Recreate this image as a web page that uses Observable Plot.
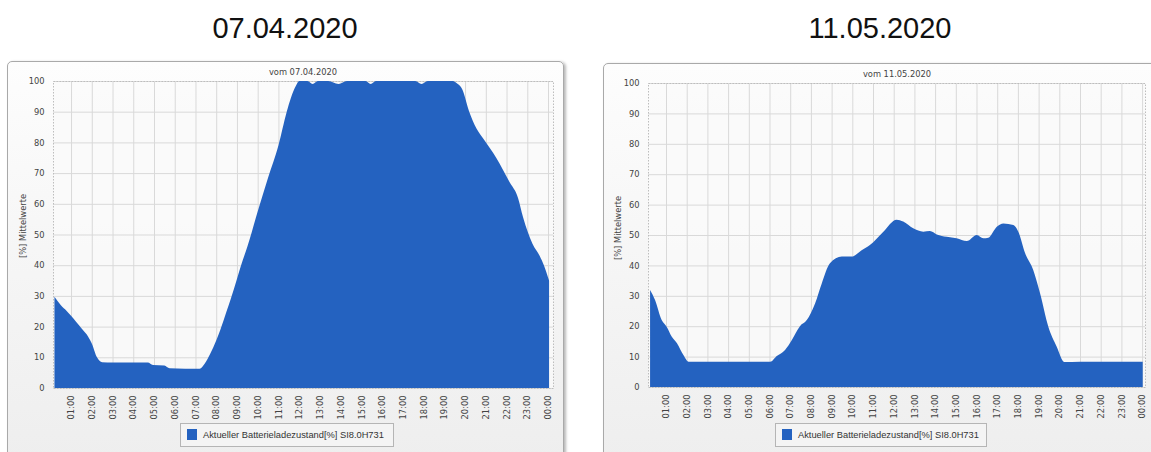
<!DOCTYPE html>
<html>
<head>
<meta charset="utf-8">
<script src="https://cdn.jsdelivr.net/npm/d3@7"></script>
<script src="https://cdn.jsdelivr.net/npm/@observablehq/plot@0.6"></script>
<style>
  html, body { margin: 0; padding: 0; background: #fff; }
  body { width: 1151px; height: 452px; position: relative; overflow: hidden; font-family: "Liberation Sans", Arial, sans-serif; }
  .heading { position: absolute; font-size: 29px; line-height: 29px; color: #111; transform: translateX(-50%); white-space: nowrap; }
  .frame { position: absolute; box-sizing: border-box; border: 1px solid #a9a9a9; border-radius: 5px;
           background: linear-gradient(#fdfdfd, #eeeeee); box-shadow: 2px 1px 3px rgba(0,0,0,0.28); }
  .chart { position: absolute; }
  .ctitle { position: absolute; font-family: "DejaVu Sans", sans-serif; font-size: 8.3px; line-height: 9px; color: #444; transform: translateX(-50%); white-space: nowrap; }
  .ylabel { position: absolute; font-family: "DejaVu Sans", sans-serif; font-size: 8.3px; line-height: 9px; color: #444; white-space: nowrap; transform: translate(-50%, -50%) rotate(-90deg); }
  .legend { position: absolute; box-sizing: border-box; border: 1px solid #b5b5b5; background: #f4f4f4; height: 24px; }
  .legend .sw { position: absolute; left: 6px; top: 5px; width: 10px; height: 11px; background: #2462c0; }
  .legend .lt { position: absolute; left: 22px; top: 6px; font-size: 9.3px; line-height: 10px; color: #333; white-space: nowrap; }
</style>
</head>
<body>
<div class="heading" style="left:285px;top:14px">07.04.2020</div>
<div class="heading" style="left:880px;top:14px">11.05.2020</div>

<div class="frame" style="left:7px;top:61px;width:557px;height:400px"></div>
<div class="frame" style="left:603px;top:63px;width:560px;height:400px"></div>

<div id="chartA" class="chart" style="left:7px;top:61px"></div>
<div id="chartB" class="chart" style="left:603px;top:63px"></div>

<div class="ctitle" style="left:303px;top:68px">vom 07.04.2020</div>
<div class="ctitle" style="left:897px;top:70px">vom 11.05.2020</div>

<div class="ylabel" style="left:23px;top:226px">[%] Mittelwerte</div>
<div class="ylabel" style="left:618px;top:228px">[%] Mittelwerte</div>

<div class="legend" style="left:180px;top:423px;width:214px"><div class="sw"></div><div class="lt">Aktueller Batterieladezustand[%] SI8.0H731</div></div>
<div class="legend" style="left:775px;top:423px;width:212px"><div class="sw"></div><div class="lt">Aktueller Batterieladezustand[%] SI8.0H731</div></div>

<script>
// ---- Data (hours of day, battery state of charge in %) ----
const hoursA = [0.2, 0.5, 0.8, 1.0, 1.25, 1.5, 1.75, 2.0, 2.25, 2.5, 3.0, 4.0, 4.7, 4.95, 5.5, 5.75, 6.5, 7.2, 7.45, 7.7, 8.0, 8.2, 8.5, 8.7, 9.0, 9.2, 9.5, 10.0, 10.5, 11.0, 11.4, 11.6, 11.85, 12.0, 12.4, 12.65, 12.9, 13.4, 13.9, 14.3, 15.2, 15.45, 15.7, 17.6, 17.9, 18.2, 19.4, 19.65, 19.85, 20.2, 20.55, 20.9, 21.5, 22.15, 22.55, 22.8, 23.25, 23.6, 23.8, 24.05];
const socA   = [29.7, 27, 25, 23.5, 21.5, 19.5, 17.5, 14.5, 10, 8.4, 8.3, 8.3, 8.3, 7.5, 7.3, 6.4, 6.3, 6.3, 8, 11, 15.5, 19, 25, 29, 35.5, 40, 46, 57.5, 68.5, 79, 90, 94.5, 98.5, 100, 100, 99, 100, 100, 99, 100, 100, 99, 100, 100, 99, 100, 100, 99, 97.5, 90, 84.5, 81, 75, 67, 62, 55.5, 47, 43, 40, 35];

const hoursB = [0.23, 0.47, 0.79, 1.03, 1.28, 1.53, 1.84, 2.09, 3.0, 4.0, 5.0, 6.03, 6.35, 6.75, 7.08, 7.47, 7.8, 8.2, 8.52, 8.92, 9.49, 9.97, 10.45, 10.85, 11.5, 12.14, 12.46, 12.94, 13.43, 13.75, 14.08, 14.56, 15.04, 15.53, 16.01, 16.33, 16.57, 16.98, 17.3, 17.78, 18.02, 18.35, 18.74, 19.07, 19.47, 19.87, 20.24, 21.0, 22.0, 23.0, 24.03];
const socB   = [31.9, 28.6, 22, 19.8, 16.5, 14.4, 10.5, 8.3, 8.3, 8.3, 8.3, 8.3, 10.2, 12.2, 15.5, 20, 22, 27.5, 34, 40.7, 42.9, 42.9, 45, 46.7, 51.1, 55, 54.4, 52.2, 51.1, 51.3, 50.2, 49.4, 48.9, 48, 50, 48.9, 49.1, 52.7, 53.8, 53.3, 51.1, 44, 38.5, 30.8, 19.8, 13.3, 8.2, 8.3, 8.3, 8.3, 8.3];

const hourTicks  = [1, 2, 3, 4, 5, 6, 7, 8, 9, 10, 11, 12, 13, 14, 15, 16, 17, 18, 19, 20, 21, 22, 23, 24];
const hourLabels = ["01:00","02:00","03:00","04:00","05:00","06:00","07:00","08:00","09:00","10:00","11:00","12:00","13:00","14:00","15:00","16:00","17:00","18:00","19:00","20:00","21:00","22:00","23:00","00:00"];
const yTicks = [0, 10, 20, 30, 40, 50, 60, 70, 80, 90, 100];

const fillColor = "#2462c0";

function makeChart(hours, soc, cfg) {
  const data = hours.map((h, i) => ({h, v: soc[i]}));
  const fmt = h => hourLabels[hourTicks.indexOf(h)];
  return Plot.plot({
    width: cfg.width, height: cfg.height,
    marginLeft: cfg.ml, marginTop: cfg.mt, marginRight: cfg.mr, marginBottom: cfg.mb,
    style: {background: "transparent", fontSize: "8.3px", fontFamily: "'DejaVu Sans', sans-serif", color: "#444", overflow: "visible"},
    x: {type: "linear", domain: cfg.xDomain, label: null},
    y: {domain: [0, 100], label: null},
    marks: [
      Plot.frame({fill: "#fafafa", fillOpacity: 0.8, stroke: "none"}),
      Plot.gridY(yTicks, {stroke: "#d9d9d9", strokeOpacity: 1}),
      Plot.gridX(hourTicks, {stroke: "#d9d9d9", strokeOpacity: 1}),
      Plot.frame({stroke: "#bdbdbd", strokeDasharray: "1.5,1.5"}),
      Plot.areaY(data, {x: "h", y: "v", fill: fillColor, curve: "monotone-x"}),
      Plot.axisX({ticks: hourTicks, tickFormat: fmt, tickRotate: -90, tickSize: 0, tickPadding: 7, fill: "#444"}),
      Plot.axisY({ticks: yTicks, tickSize: 0, tickPadding: 9, fill: "#444"})
    ]
  });
}

document.getElementById("chartA").appendChild(makeChart(hoursA, socA,
  {width: 556, height: 391, ml: 46, mt: 20, mr: 10, mb: 64, xDomain: [0.13, 24.24]}));
document.getElementById("chartB").appendChild(makeChart(hoursB, socB,
  {width: 548, height: 389, ml: 45, mt: 20, mr: 6, mb: 65, xDomain: [0.13, 24.14]}));
</script>
</body>
</html>
